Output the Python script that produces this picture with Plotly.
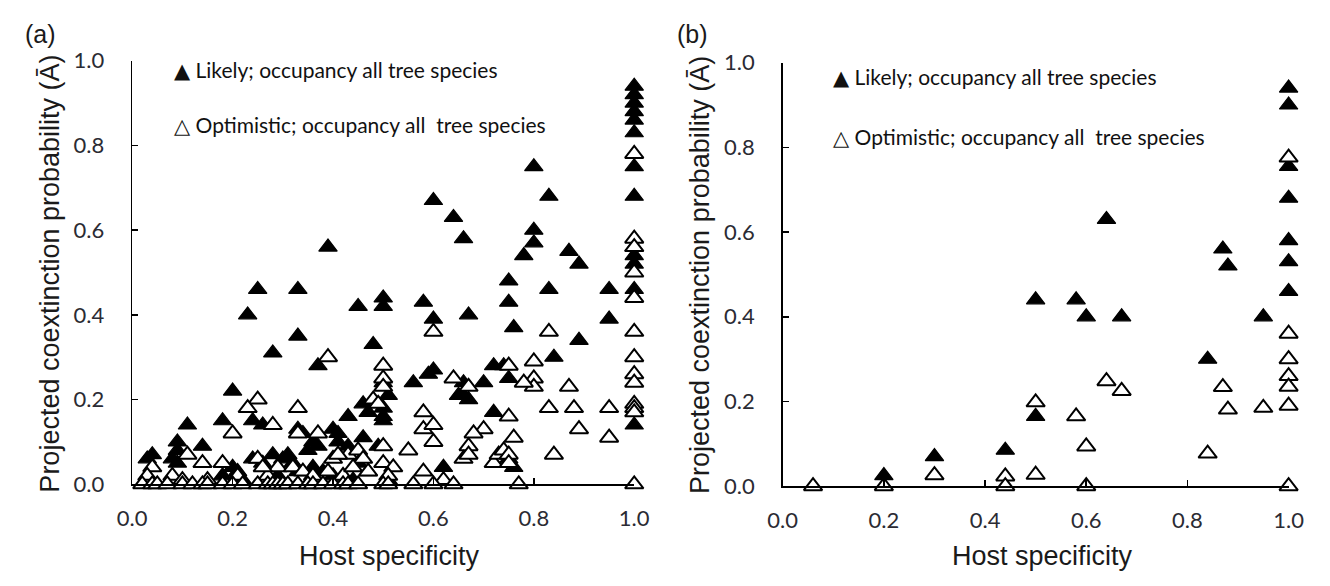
import plotly.graph_objects as go

# ---------------- data ----------------
# Panel (a): Likely (filled triangles)
likely_a_x = [1.0, 1.0, 1.0, 1.0, 1.0, 1.0, 1.0, 1.0, 1.0, 1.0, 1.0, 1.0, 1.0,
              0.80, 0.83, 0.60, 0.64, 0.66, 0.39, 0.80, 0.80, 0.78, 0.87, 0.89,
              0.25, 0.33, 0.95, 0.75, 0.75, 0.83, 0.50, 0.50, 0.58, 0.60, 0.45, 0.67, 0.23, 0.95,
              0.33, 0.48, 0.89, 0.76, 0.28, 0.37, 0.84, 0.72, 0.74, 0.75, 0.59, 0.60, 0.56,
              0.66, 0.65, 0.67, 0.66, 0.70, 0.20, 0.51, 0.50, 0.72, 0.46, 0.47, 0.43, 0.50, 0.50,
              0.11, 0.18, 0.24, 0.26, 0.33, 0.40, 0.41, 0.36, 0.35, 0.37, 0.41, 0.43, 0.46, 0.49,
              0.14, 0.09, 0.09, 0.08, 0.09, 0.03, 0.04, 0.24, 0.26, 0.28, 0.30, 0.31, 0.32,
              0.20, 0.21, 0.36, 0.38, 0.62, 0.76, 0.75, 0.45, 0.47, 0.29, 0.33, 0.18, 0.22, 0.40, 0.44,
              0.34, 0.50, 0.51]
likely_a_y = [0.94, 0.92, 0.90, 0.88, 0.86, 0.83, 0.75, 0.68, 0.56, 0.54, 0.52, 0.46, 0.14,
              0.75, 0.68, 0.67, 0.63, 0.58, 0.56, 0.60, 0.57, 0.54, 0.55, 0.52,
              0.46, 0.46, 0.46, 0.48, 0.43, 0.46, 0.44, 0.42, 0.43, 0.39, 0.42, 0.40, 0.40, 0.39,
              0.35, 0.33, 0.34, 0.37, 0.31, 0.28, 0.30, 0.28, 0.28, 0.25, 0.26, 0.27, 0.24,
              0.24, 0.21, 0.20, 0.21, 0.24, 0.22, 0.21, 0.24, 0.17, 0.19, 0.17, 0.16, 0.16, 0.15,
              0.14, 0.15, 0.15, 0.14, 0.13, 0.13, 0.12, 0.10, 0.08, 0.09, 0.10, 0.09, 0.11, 0.09,
              0.09, 0.10, 0.08, 0.06, 0.05, 0.06, 0.07, 0.06, 0.05, 0.07, 0.06, 0.07, 0.05,
              0.04, 0.03, 0.04, 0.03, 0.04, 0.04, 0.06, 0.05, 0.03, 0.02, 0.03, 0.02, 0.01, 0.02, 0.01,
              0.12, 0.18, 0.01]

# Panel (a): Optimistic (open triangles)
opt_a_x = [1.0, 1.0, 1.0, 1.0, 1.0, 1.0, 1.0, 1.0, 1.0, 1.0, 1.0, 1.0, 1.0,
           0.60, 0.83, 0.39, 0.50, 0.50, 0.50, 0.75, 0.80, 0.80, 0.80, 0.78, 0.64, 0.67, 0.87,
           0.95, 0.95, 0.83, 0.88, 0.89, 0.84, 0.25, 0.23, 0.33, 0.20, 0.28, 0.48, 0.49,
           0.58, 0.58, 0.60, 0.60, 0.75, 0.70, 0.68, 0.67, 0.66, 0.67, 0.76, 0.72, 0.73, 0.74, 0.75, 0.75,
           0.55, 0.58, 0.62, 0.50, 0.50, 0.52, 0.51, 0.37, 0.40, 0.43, 0.45, 0.46, 0.33,
           0.04, 0.03, 0.11, 0.14, 0.18, 0.25, 0.29, 0.32, 0.34, 0.08, 0.10, 0.15, 0.21, 0.27,
           0.36, 0.39, 0.42, 0.47, 0.44, 0.26, 0.41,
           0.02, 0.04, 0.05, 0.07, 0.10, 0.12, 0.14, 0.15, 0.18, 0.20, 0.22, 0.25, 0.27, 0.28,
           0.29, 0.30, 0.31, 0.33, 0.35, 0.36, 0.38, 0.40, 0.42, 0.43, 0.45, 0.50, 0.51, 0.56,
           0.60, 0.64, 0.77]
opt_a_y = [0.78, 0.58, 0.56, 0.50, 0.44, 0.36, 0.30, 0.26, 0.24, 0.19, 0.18, 0.17, 0.0,
           0.36, 0.36, 0.30, 0.28, 0.25, 0.23, 0.28, 0.29, 0.25, 0.23, 0.24, 0.25, 0.23, 0.23,
           0.18, 0.11, 0.18, 0.18, 0.13, 0.07, 0.20, 0.18, 0.18, 0.12, 0.14, 0.20, 0.19,
           0.17, 0.13, 0.14, 0.10, 0.16, 0.13, 0.12, 0.09, 0.06, 0.07, 0.11, 0.05, 0.07, 0.08, 0.07, 0.05,
           0.08, 0.03, 0.01, 0.09, 0.05, 0.04, 0.02, 0.12, 0.06, 0.07, 0.08, 0.06, 0.12,
           0.04, 0.02, 0.07, 0.05, 0.05, 0.06, 0.04, 0.04, 0.03, 0.02, 0.01, 0.01, 0.02, 0.02,
           0.02, 0.03, 0.02, 0.03, 0.04, 0.04, 0.07,
           0.0, 0.0, 0.0, 0.0, 0.0, 0.0, 0.0, 0.0, 0.0, 0.0, 0.0, 0.0, 0.0, 0.0,
           0.0, 0.0, 0.0, 0.0, 0.0, 0.0, 0.0, 0.0, 0.0, 0.0, 0.0, 0.0, 0.0, 0.0,
           0.0, 0.0, 0.0]

# Panel (b): Likely (filled triangles)
likely_b_x = [1.0, 1.0, 1.0, 1.0, 1.0, 1.0, 1.0, 0.64, 0.87, 0.88, 0.50, 0.58, 0.60,
              0.67, 0.95, 0.84, 0.50, 0.44, 0.30, 0.20]
likely_b_y = [0.94, 0.90, 0.755, 0.68, 0.58, 0.53, 0.46, 0.63, 0.56, 0.52, 0.44, 0.44, 0.40,
              0.40, 0.40, 0.30, 0.165, 0.085, 0.07, 0.025]

# Panel (b): Optimistic (open triangles)
opt_b_x = [1.0, 1.0, 1.0, 1.0, 1.0, 1.0, 1.0, 0.64, 0.67, 0.87, 0.88, 0.95, 0.84, 0.50,
           0.58, 0.60, 0.50, 0.30, 0.44, 0.06, 0.20, 0.44, 0.60]
opt_b_y = [0.776, 0.36, 0.30, 0.26, 0.235, 0.19, 0.0, 0.248, 0.225, 0.234, 0.181, 0.185, 0.077, 0.198,
           0.165, 0.094, 0.027, 0.026, 0.023, 0.0, 0.0, 0.0, 0.0]

tick_vals = [0.0, 0.2, 0.4, 0.6, 0.8, 1.0]
tick_text = ["0.0", "0.2", "0.4", "0.6", "0.8", "1.0"]
legend_likely = "▲ Likely; occupancy all tree species"
legend_opt = "△ Optimistic; occupancy all  tree species"
x_title = "Host specificity"
y_title = "Projected coextinction probability (Ā)"

# ---------------- figure ----------------
W, H = 1330, 586
fig = go.Figure()

def px_x(p):
    return p / W

def px_y(p):
    return 1 - p / H

MSIZE = 16
for (lx, ly, ox, oy, xa, ya) in [
    (likely_a_x, likely_a_y, opt_a_x, opt_a_y, "x", "y"),
    (likely_b_x, likely_b_y, opt_b_x, opt_b_y, "x2", "y2"),
]:
    fig.add_trace(go.Scatter(
        x=lx, y=ly, mode="markers", xaxis=xa, yaxis=ya, cliponaxis=False,
        marker=dict(symbol="triangle-up", size=MSIZE, color="black",
                    line=dict(color="black", width=1.2)),
        showlegend=False, hoverinfo="skip"))
    fig.add_trace(go.Scatter(
        x=ox, y=oy, mode="markers", xaxis=xa, yaxis=ya, cliponaxis=False,
        marker=dict(symbol="triangle-up", size=MSIZE, color="white",
                    line=dict(color="black", width=2)),
        showlegend=False, hoverinfo="skip"))

tick_font = dict(family="Lato, Open Sans, sans-serif", size=22, color="#2b2b33")
common_x = dict(range=[0, 1.0], tickvals=tick_vals, ticktext=tick_text,
                ticks="inside", ticklen=6, tickwidth=1.5, tickcolor="black",
                showline=True, linecolor="black", linewidth=1.5,
                showgrid=False, zeroline=False, tickfont=tick_font,
                ticklabelstandoff=14, fixedrange=True)
common_y = dict(range=[0, 1.0], tickvals=tick_vals, ticktext=tick_text,
                ticks="inside", ticklen=6, tickwidth=1.5, tickcolor="black",
                showline=True, linecolor="black", linewidth=1.5,
                showgrid=False, zeroline=False, tickfont=tick_font,
                ticklabelstandoff=22, fixedrange=True)

fig.update_layout(
    width=W, height=H,
    margin=dict(l=0, r=0, t=0, b=0),
    paper_bgcolor="white", plot_bgcolor="white",
    xaxis=dict(domain=[px_x(120), px_x(634)], anchor="y", **common_x),
    yaxis=dict(domain=[px_y(493), px_y(49)], anchor="x", **common_y),
    xaxis2=dict(domain=[px_x(786), px_x(1304)], anchor="y2", **common_x),
    yaxis2=dict(domain=[px_y(495), px_y(51)], anchor="x2", **common_y),
)

title_font = dict(family="Liberation Sans, Arial, sans-serif", size=27, color="#1a1a1a")
legend_font = dict(family="Lato, Open Sans, DejaVu Sans, sans-serif", size=21, color="#111111")
ann = []
# panel labels
ann.append(dict(x=px_x(8), y=px_y(21), text="(a)", showarrow=False, xanchor="left", yanchor="middle",
                xref="paper", yref="paper", font=dict(family="Liberation Sans, Arial", size=25, color="#1a1a1a")))
ann.append(dict(x=px_x(676), y=px_y(21), text="(b)", showarrow=False, xanchor="left", yanchor="middle",
                xref="paper", yref="paper", font=dict(family="Liberation Sans, Arial", size=25, color="#1a1a1a")))
# axis titles
for cx, cy in [(36, 272), (702, 274)]:
    ann.append(dict(x=px_x(cx), y=px_y(cy), text=y_title, textangle=-90, showarrow=False,
                    xanchor="center", yanchor="middle", xref="paper", yref="paper", font=title_font))
for cx, cy in [(383, 568), (1052, 568)]:
    ann.append(dict(x=px_x(cx), y=px_y(cy), text=x_title, showarrow=False,
                    xanchor="center", yanchor="middle", xref="paper", yref="paper", font=title_font))
# in-plot legends
for lx, y1, y2 in [(161, 58, 116), (835, 65, 128)]:
    ann.append(dict(x=px_x(lx), y=px_y(y1), text=legend_likely, showarrow=False,
                    xanchor="left", yanchor="middle", xref="paper", yref="paper", font=legend_font))
    ann.append(dict(x=px_x(lx), y=px_y(y2), text=legend_opt, showarrow=False,
                    xanchor="left", yanchor="middle", xref="paper", yref="paper", font=legend_font))
fig.update_layout(annotations=ann)

fig.write_html("out.html",
               config={"displayModeBar": False, "staticPlot": True},
               post_script="document.body.style.margin='0';document.body.style.overflow='hidden';")
